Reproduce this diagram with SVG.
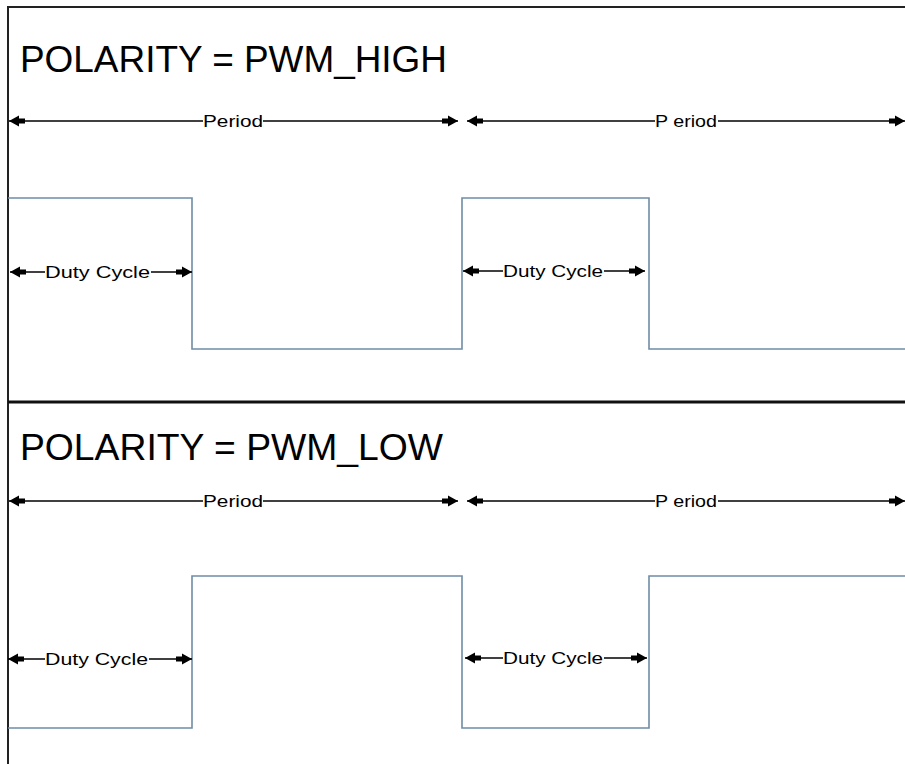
<svg xmlns="http://www.w3.org/2000/svg" width="905" height="764" viewBox="0 0 905 764">
<defs>
<style>
.frame{stroke:#222;stroke-width:2;fill:none}
.wave{stroke:#6f8ca6;stroke-width:1.6;fill:none}
.dim{stroke:#000;stroke-width:1.5;fill:none}
.title{font-family:"Liberation Sans",Arial,sans-serif;font-size:37px;fill:#000}
.lbl{font-family:"Liberation Sans",Arial,sans-serif;font-size:17px;fill:#000}
</style>
<marker id="ah" viewBox="0 0 16 12" refX="16" refY="6" markerWidth="16" markerHeight="12" markerUnits="userSpaceOnUse" orient="auto-start-reverse">
<path d="M0,3.5 H6 V0.5 L16,6 L6,11.5 V8.5 H0 Z" fill="#000"/>
</marker>
</defs>
<rect width="905" height="764" fill="#fff"/>
<g id="frame">
<path class="frame" d="M8,764 V7 H905"/>
<line x1="8" y1="402" x2="905" y2="402" stroke="#111" stroke-width="3"/>
</g>
<g id="top-panel">
<text class="title" x="20" y="72" textLength="427" lengthAdjust="spacingAndGlyphs">POLARITY = PWM_HIGH</text>
<path id="wave-high" class="wave" d="M8,198 H192 V349 H462 V198 H649 V349 H905"/>
</g>
<g id="bottom-panel">
<text class="title" x="20" y="460" textLength="423" lengthAdjust="spacingAndGlyphs">POLARITY = PWM_LOW</text>
<path id="wave-low" class="wave" d="M8,728 H192 V576 H462 V728 H649 V576 H905"/>
</g>
<g id="connectors">
<line class="dim" x1="9" y1="121" x2="203" y2="121" marker-start="url(#ah)"/>
<line class="dim" x1="263" y1="121" x2="458" y2="121" marker-end="url(#ah)"/>
<line class="dim" x1="467" y1="121" x2="655" y2="121" marker-start="url(#ah)"/>
<line class="dim" x1="718" y1="121" x2="905" y2="121" marker-end="url(#ah)"/>
<line class="dim" x1="10" y1="272" x2="45" y2="272" marker-start="url(#ah)"/>
<line class="dim" x1="151" y1="272" x2="192" y2="272" marker-end="url(#ah)"/>
<line class="dim" x1="463" y1="271" x2="503" y2="271" marker-start="url(#ah)"/>
<line class="dim" x1="604" y1="271" x2="645" y2="271" marker-end="url(#ah)"/>
<line class="dim" x1="9" y1="501" x2="203" y2="501" marker-start="url(#ah)"/>
<line class="dim" x1="263" y1="501" x2="458" y2="501" marker-end="url(#ah)"/>
<line class="dim" x1="467" y1="501" x2="655" y2="501" marker-start="url(#ah)"/>
<line class="dim" x1="718" y1="501" x2="905" y2="501" marker-end="url(#ah)"/>
<line class="dim" x1="8" y1="659" x2="45" y2="659" marker-start="url(#ah)"/>
<line class="dim" x1="149" y1="659" x2="192" y2="659" marker-end="url(#ah)"/>
<line class="dim" x1="465" y1="658" x2="503" y2="658" marker-start="url(#ah)"/>
<line class="dim" x1="604" y1="658" x2="647" y2="658" marker-end="url(#ah)"/>
</g>
<g id="labels">
<text class="lbl" x="203" y="127" textLength="60" lengthAdjust="spacingAndGlyphs">Period</text>
<text class="lbl" x="655" y="127" textLength="62" lengthAdjust="spacingAndGlyphs">P eriod</text>
<text class="lbl" x="45" y="278" textLength="105" lengthAdjust="spacingAndGlyphs">Duty Cycle</text>
<text class="lbl" x="503" y="277" textLength="100" lengthAdjust="spacingAndGlyphs">Duty Cycle</text>
<text class="lbl" x="203" y="507" textLength="60" lengthAdjust="spacingAndGlyphs">Period</text>
<text class="lbl" x="655" y="507" textLength="62" lengthAdjust="spacingAndGlyphs">P eriod</text>
<text class="lbl" x="45" y="665" textLength="103" lengthAdjust="spacingAndGlyphs">Duty Cycle</text>
<text class="lbl" x="503" y="664" textLength="100" lengthAdjust="spacingAndGlyphs">Duty Cycle</text>
</g>
</svg>
